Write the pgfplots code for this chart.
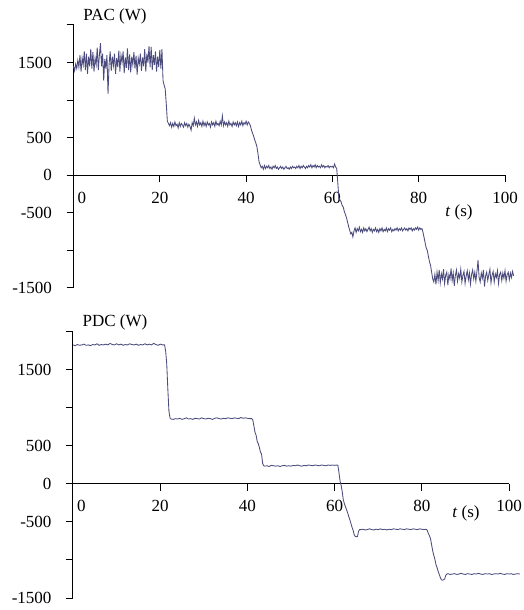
\documentclass[border=0pt]{standalone}
\usepackage{pgfplots}
\pgfplotsset{compat=1.18}
\usepackage{fontspec}
\setmainfont{Liberation Serif}
\definecolor{trace}{HTML}{4B4B7D}

\pgfplotsset{
  powerplot/.style={
    scale only axis,
    anchor=south west,
    xmin=0, xmax=100, ymin=-1500, ymax=2000,
    axis x line=middle, axis y line=left,
    axis line style={-, line width=1pt, black},
    every inner x axis line/.append style={-},
    every outer y axis line/.append style={-},
    hide obscured x ticks=false,
    hide obscured y ticks=false,
    xtick={0,20,...,100},
    xticklabels={\phantom{00}0,20,40,60,80,100},
    ytick={-1500,-1000,...,2000},
    yticklabels={-1500,,-500,0,500,,1500,},
    tick align=outside,
    major tick length=7pt,
    tick style={line width=1pt, black},
    tick label style={font=\fontsize{17}{20}\selectfont},
    xticklabel style={yshift=-6pt},
    yticklabel style={xshift=-11pt},
    clip=false,
  },
  trace/.style={color=trace, line width=0.85pt, no markers},
}
% tick marks under the time axis
\newcommand\timeticks{%
  \pgfplotsinvokeforeach{20,40,60,80,100}{%
    \draw[line width=1pt] (axis cs:##1,0) -- ++(0pt,-7pt);}}

\begin{document}
\begin{tikzpicture}
\path[use as bounding box] (0pt,0pt) rectangle (523pt,610pt);

% P_AC
\begin{axis}[powerplot, at={(73.5pt,322pt)}, width=431.5pt, height=263pt]
\addplot[trace] coordinates {
(0,1450)(0.25,1390)(0.5,1480)(0.75,1420)(1,1530)(1.25,1440)(1.5,1600)(1.75,1380)
(2,1560)(2.25,1470)(2.5,1650)(2.75,1400)(3,1620)(3.25,1350)(3.5,1580)(3.75,1450)
(4,1680)(4.25,1420)(4.5,1640)(4.75,1380)(5,1560)(5.25,1470)(5.5,1700)(5.75,1400)
(6,1600)(6.25,1760)(6.5,1450)(6.75,1620)(7,1260)(7.25,1550)(7.5,1420)(7.75,1600)
(8,1085)(8.25,1480)(8.5,1650)(8.75,1390)(9,1580)(9.25,1460)(9.5,1620)(9.75,1350)
(10,1560)(10.25,1440)(10.5,1660)(10.75,1380)(11,1600)(11.25,1500)(11.5,1650)(11.75,1360)
(12,1570)(12.25,1430)(12.5,1690)(12.75,1400)(13,1610)(13.25,1370)(13.5,1580)(13.75,1470)
(14,1640)(14.25,1420)(14.5,1590)(14.75,1340)(15,1560)(15.25,1480)(15.5,1620)(15.75,1390)
(16,1570)(16.25,1450)(16.5,1680)(16.75,1380)(17,1620)(17.25,1500)(17.5,1720)(17.75,1440)
(18,1710)(18.25,1400)(18.5,1600)(18.75,1470)(19,1650)(19.25,1380)(19.5,1580)(19.75,1440)
(20,1670)(20.25,1420)(20.5,1680)(20.75,1260)(21,1200)(21.25,1150)(21.5,950)(21.75,720)
(22,690)(22.25,660)(22.5,700)(22.75,640)(23,690)(23.25,650)(23.5,710)(23.75,660)
(24,680)(24.25,630)(24.5,700)(24.75,650)(25,690)(25.25,670)(25.5,640)(25.75,700)
(26,660)(26.25,690)(26.5,640)(26.75,680)(27,650)(27.25,600)(27.5,700)(27.75,660)
(28,760)(28.25,670)(28.5,710)(28.75,650)(29,730)(29.25,670)(29.5,700)(29.75,650)
(30,720)(30.25,660)(30.5,700)(30.75,650)(31,710)(31.25,670)(31.5,690)(31.75,640)
(32,710)(32.25,670)(32.5,700)(32.75,650)(33,720)(33.25,670)(33.5,690)(33.75,660)
(34,720)(34.25,670)(34.5,790)(34.75,660)(35,710)(35.25,670)(35.5,700)(35.75,650)
(36,720)(36.25,670)(36.5,690)(36.75,650)(37,710)(37.25,670)(37.5,700)(37.75,660)
(38,710)(38.25,650)(38.5,700)(38.75,670)(39,720)(39.25,660)(39.5,700)(39.75,680)
(40,720)(40.25,670)(40.5,710)(40.75,690)(41,660)(41.25,600)(41.5,560)(41.75,520)
(42,470)(42.25,430)(42.5,380)(42.75,290)(43,180)(43.25,140)(43.5,100)(43.75,120)
(44,80)(44.25,130)(44.5,90)(44.75,120)(45,100)(45.25,130)(45.5,90)(45.75,110)
(46,80)(46.25,120)(46.5,100)(46.75,130)(47,90)(47.25,110)(47.5,80)(47.75,100)
(48,120)(48.25,90)(48.5,110)(48.75,80)(49,100)(49.25,120)(49.5,90)(49.75,100)
(50,80)(50.25,110)(50.5,90)(50.75,120)(51,100)(51.25,110)(51.5,90)(51.75,120)
(52,100)(52.25,130)(52.5,90)(52.75,120)(53,100)(53.25,130)(53.5,110)(53.75,90)
(54,120)(54.25,100)(54.5,130)(54.75,110)(55,140)(55.25,100)(55.5,130)(55.75,110)
(56,140)(56.25,100)(56.5,130)(56.75,110)(57,120)(57.25,100)(57.5,140)(57.75,110)
(58,130)(58.25,100)(58.5,120)(58.75,110)(59,130)(59.25,100)(59.5,120)(59.75,110)
(60,120)(60.25,100)(60.5,150)(60.75,110)(61,90)(61.25,-100)(61.5,-300)(61.75,-330)
(62,-350)(62.25,-400)(62.5,-420)(62.75,-480)(63,-520)(63.25,-560)(63.5,-620)(63.75,-680)
(64,-730)(64.25,-780)(64.5,-760)(64.75,-820)(65,-740)(65.25,-700)(65.5,-760)(65.75,-710)
(66,-740)(66.25,-690)(66.5,-750)(66.75,-720)(67,-760)(67.25,-700)(67.5,-740)(67.75,-710)
(68,-750)(68.25,-720)(68.5,-690)(68.75,-740)(69,-710)(69.25,-760)(69.5,-720)(69.75,-740)
(70,-700)(70.25,-750)(70.5,-720)(70.75,-760)(71,-710)(71.25,-740)(71.5,-700)(71.75,-750)
(72,-720)(72.25,-740)(72.5,-700)(72.75,-750)(73,-710)(73.25,-730)(73.5,-700)(73.75,-750)
(74,-720)(74.25,-740)(74.5,-710)(74.75,-730)(75,-700)(75.25,-740)(75.5,-710)(75.75,-730)
(76,-700)(76.25,-740)(76.5,-720)(76.75,-700)(77,-730)(77.25,-710)(77.5,-740)(77.75,-700)
(78,-720)(78.25,-700)(78.5,-740)(78.75,-710)(79,-730)(79.25,-700)(79.5,-720)(79.75,-690)
(80,-730)(80.25,-700)(80.5,-720)(80.75,-710)(81,-760)(81.25,-830)(81.5,-900)(81.75,-970)
(82,-1000)(82.25,-1080)(82.5,-1150)(82.75,-1200)(83,-1290)(83.25,-1380)(83.5,-1420)(83.75,-1320)
(84,-1450)(84.25,-1290)(84.5,-1400)(84.75,-1260)(85,-1430)(85.25,-1310)(85.5,-1380)(85.75,-1250)
(86,-1440)(86.25,-1330)(86.5,-1290)(86.75,-1460)(87,-1320)(87.25,-1380)(87.5,-1240)(87.75,-1400)
(88,-1300)(88.25,-1470)(88.5,-1330)(88.75,-1260)(89,-1410)(89.25,-1310)(89.5,-1370)(89.75,-1250)
(90,-1420)(90.25,-1330)(90.5,-1280)(90.75,-1440)(91,-1340)(91.25,-1270)(91.5,-1390)(91.75,-1300)
(92,-1450)(92.25,-1320)(92.5,-1260)(92.75,-1380)(93,-1290)(93.25,-1410)(93.5,-1280)(93.75,-1130)
(94,-1360)(94.25,-1420)(94.5,-1300)(94.75,-1370)(95,-1260)(95.25,-1480)(95.5,-1340)(95.75,-1290)
(96,-1400)(96.25,-1320)(96.5,-1250)(96.75,-1430)(97,-1330)(97.25,-1280)(97.5,-1420)(97.75,-1310)
(98,-1360)(98.25,-1270)(98.5,-1440)(98.75,-1320)(99,-1290)(99.25,-1400)(99.5,-1300)(99.75,-1370)
(100,-1270)(100.25,-1410)(100.5,-1320)(100.75,-1290)(101,-1390)(101.25,-1300)(101.5,-1360)(101.75,-1280)
(102,-1340)
};
\timeticks
\end{axis}

% P_DC
\begin{axis}[powerplot, at={(73pt,12pt)}, width=436pt, height=266pt]
\addplot[trace] coordinates {
(0,1830)(0.5,1820)(1,1835)(1.5,1825)(2,1830)(2.5,1840)(3,1825)(3.5,1830)
(4,1820)(4.5,1835)(5,1830)(5.5,1845)(6,1825)(6.5,1835)(7,1830)(7.5,1840)
(8,1830)(8.5,1850)(9,1835)(9.5,1830)(10,1845)(10.5,1830)(11,1840)(11.5,1825)
(12,1835)(12.5,1830)(13,1845)(13.5,1835)(14,1830)(14.5,1840)(15,1825)(15.5,1835)
(16,1830)(16.5,1845)(17,1830)(17.5,1840)(18,1830)(18.5,1850)(19,1835)(19.5,1825)
(20,1840)(20.5,1830)(21,1830)(21.25,1750)(21.5,1580)(21.75,1250)(22,960)(22.25,870)
(22.5,855)(23,850)(23.5,860)(24,855)(24.5,865)(25,850)(25.5,860)(26,870)
(26.5,855)(27,860)(27.5,850)(28,865)(28.5,860)(29,855)(29.5,870)(30,860)
(30.5,855)(31,865)(31.5,860)(32,850)(32.5,865)(33,870)(33.5,860)(34,855)
(34.5,865)(35,860)(35.5,870)(36,865)(36.5,860)(37,870)(37.5,865)(38,860)
(38.5,875)(39,865)(39.5,870)(40,865)(40.5,860)(41,860)(41.25,840)(41.5,760)
(41.75,680)(42,640)(42.25,560)(42.5,530)(42.75,480)(43,420)(43.25,390)(43.5,270)
(43.75,240)(44,235)(44.5,240)(45,230)(45.5,245)(46,240)(46.5,235)(47,240)
(47.5,230)(48,240)(48.5,245)(49,235)(49.5,240)(50,235)(50.5,245)(51,240)
(51.5,250)(52,240)(52.5,235)(53,245)(53.5,240)(54,250)(54.5,245)(55,240)
(55.5,250)(56,245)(56.5,240)(57,250)(57.5,245)(58,240)(58.5,250)(59,245)
(59.5,250)(60,245)(60.5,250)(60.75,245)(61,150)(61.25,40)(61.5,-20)(61.75,-100)
(62,-210)(62.25,-260)(62.5,-300)(62.75,-340)(63,-380)(63.25,-430)(63.5,-470)(63.75,-520)
(64,-570)(64.25,-610)(64.5,-670)(64.75,-690)(65,-695)(65.25,-690)(65.5,-620)(65.75,-600)
(66,-600)(66.5,-595)(67,-605)(67.5,-600)(68,-590)(68.5,-600)(69,-605)(69.5,-595)
(70,-600)(70.5,-590)(71,-600)(71.5,-595)(72,-605)(72.5,-595)(73,-600)(73.5,-590)
(74,-595)(74.5,-600)(75,-590)(75.5,-595)(76,-600)(76.5,-590)(77,-595)(77.5,-600)
(78,-590)(78.5,-595)(79,-600)(79.5,-590)(80,-595)(80.5,-600)(81,-595)(81.25,-610)
(81.5,-650)(81.75,-680)(82,-720)(82.25,-800)(82.5,-880)(82.75,-940)(83,-990)(83.25,-1060)
(83.5,-1100)(83.75,-1150)(84,-1190)(84.25,-1230)(84.5,-1260)(84.75,-1265)(85,-1260)(85.25,-1250)
(85.5,-1200)(85.75,-1185)(86,-1180)(86.5,-1190)(87,-1185)(87.5,-1180)(88,-1190)(88.5,-1185)
(89,-1175)(89.5,-1185)(90,-1190)(90.5,-1180)(91,-1185)(91.5,-1190)(92,-1180)(92.5,-1185)
(93,-1175)(93.5,-1185)(94,-1190)(94.5,-1180)(95,-1185)(95.5,-1180)(96,-1190)(96.5,-1185)
(97,-1180)(97.5,-1185)(98,-1175)(98.5,-1185)(99,-1190)(99.5,-1180)(100,-1185)(100.5,-1180)
(101,-1190)(101.5,-1185)(102,-1180)(102.5,-1185)
};
\timeticks
\end{axis}

\node[font=\fontsize{17}{20}\selectfont] at (115pt,594pt) {PAC (W)};
\node[font=\fontsize{17}{20}\selectfont] at (115pt,288pt) {PDC (W)};
\node[font=\fontsize{17}{20}\selectfont] at (459pt,398pt) {\textit{t} (s)};
\node[font=\fontsize{17}{20}\selectfont] at (466pt,97pt) {\textit{t} (s)};
\end{tikzpicture}
\end{document}
